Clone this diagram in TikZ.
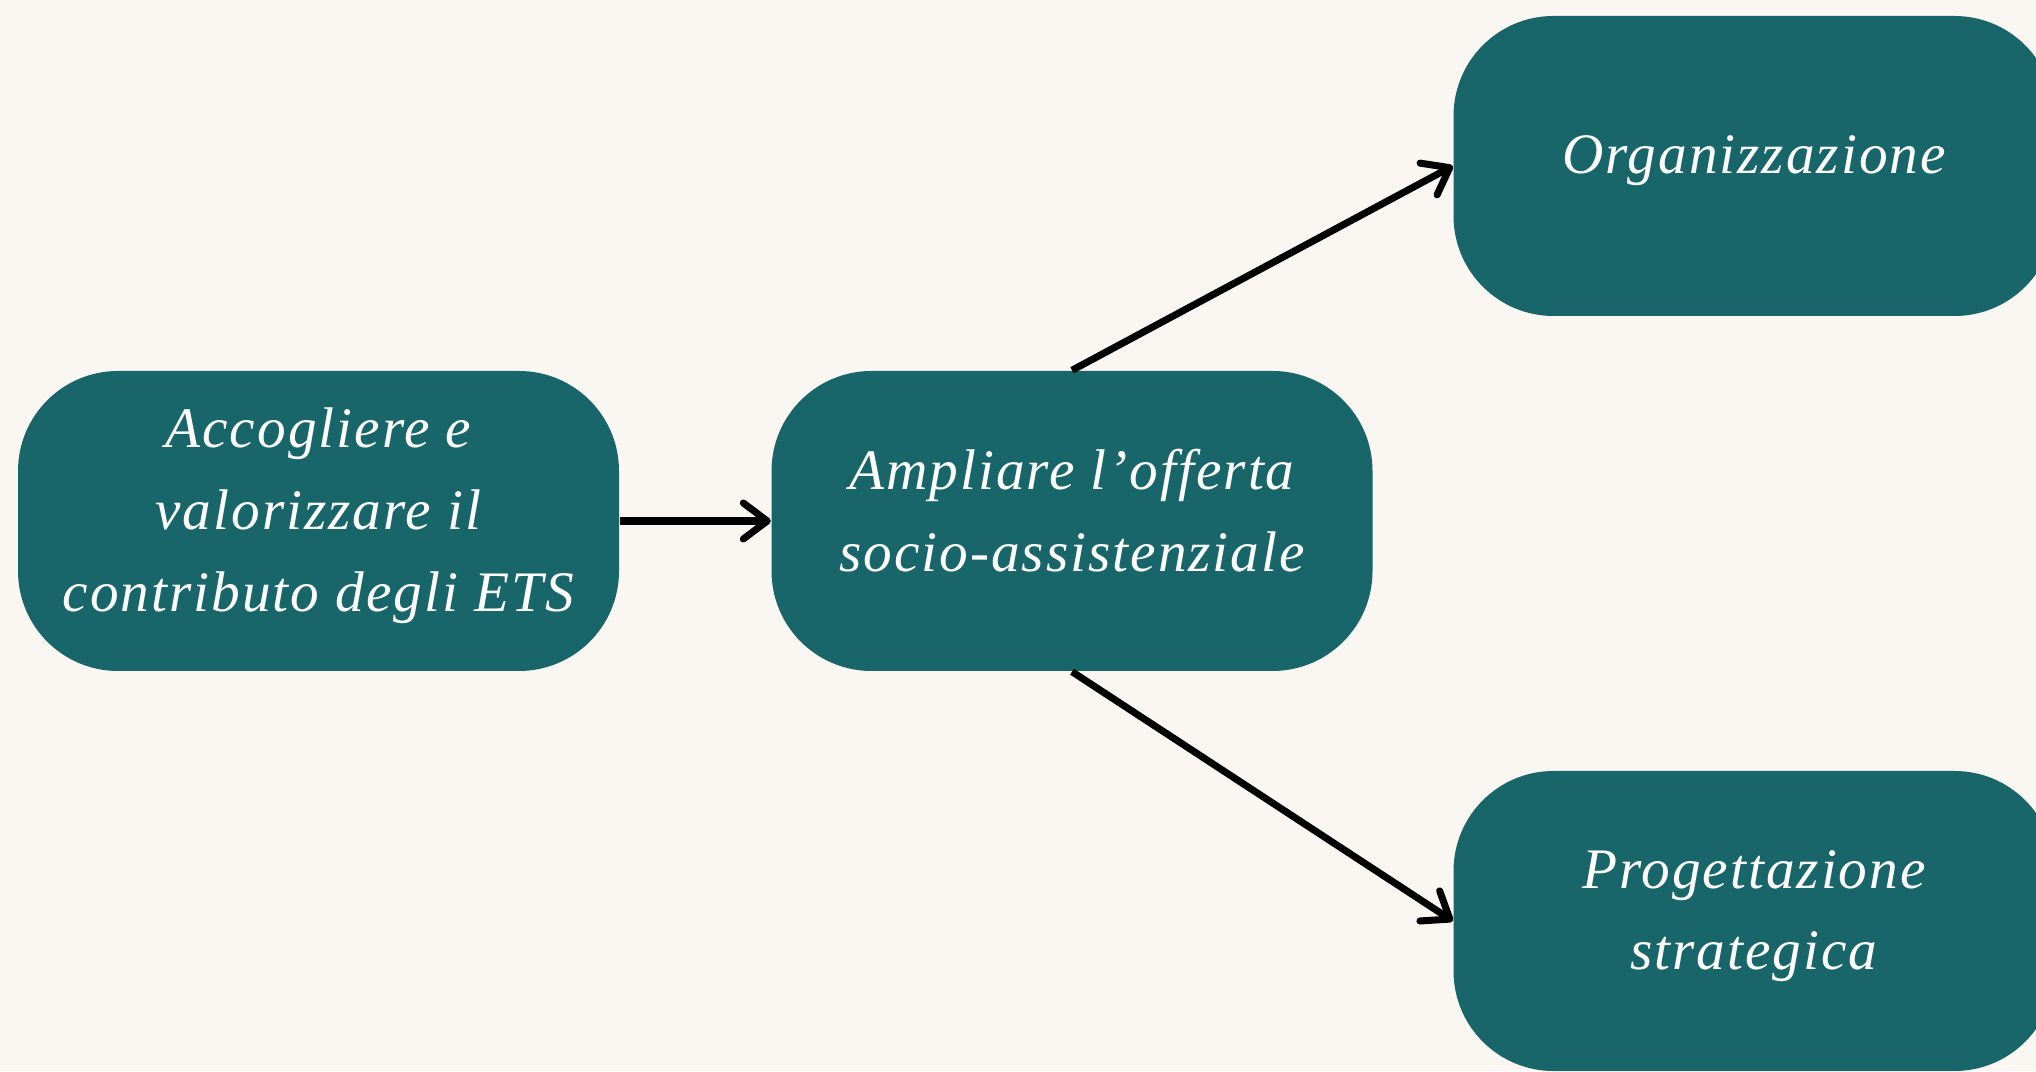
\documentclass[tikz,border=0pt]{standalone}
\usepackage{fontspec}
\setmainfont{Liberation Serif}[LetterSpace=3.5]
\usetikzlibrary{positioning,arrows.meta}
\definecolor{sfondo}{HTML}{FAF6F1}
\definecolor{petrolio}{HTML}{18666A}
\tikzset{
  blocco/.style  = {rectangle, rounded corners=1cm, fill=petrolio,
                    minimum width=6.01cm, minimum height=3cm, inner sep=0pt,
                    text=white, align=center, text depth=0.22cm,
                    font=\fontsize{16.3}{23.3}\selectfont\itshape},
  freccia/.style = {-{Straight Barb[length=2.4mm,width=3.6mm,round]},
                    line width=2pt, black}
}

\begin{document}
\begin{tikzpicture}
  \fill[sfondo] (0,0) rectangle (20.36,10.71);
  \useasboundingbox (0,0) rectangle (20.36,10.71);
  \node[blocco] (acc) at (3.185,5.50) {Accogliere e\\valorizzare il\\contributo degli ETS};
  \node[blocco] (amp) at (10.72,5.50) {Ampliare l’offerta\\socio-assistenziale};
  \node[blocco] (org) at (17.54,9.05) {Organizzazione};
  \node[blocco] (prog) at (17.54,1.50) {Progettazione\\strategica};
  \draw[freccia] (acc) -- (amp);
  \draw[freccia] (amp.north) -- (org.west);
  \draw[freccia] (amp.south) -- (prog.west);
\end{tikzpicture}
\end{document}
